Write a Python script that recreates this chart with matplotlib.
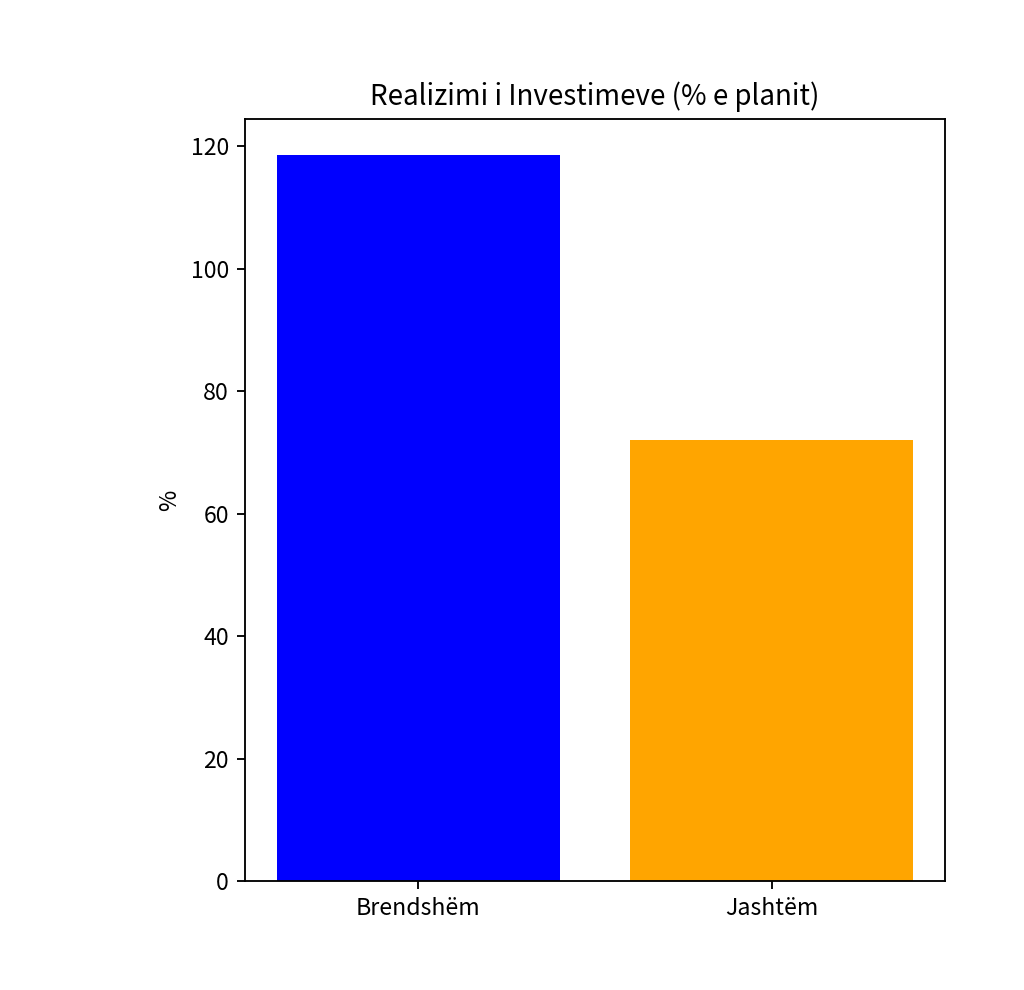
import matplotlib
matplotlib.use('Agg')
import matplotlib.pyplot as plt

plt.rcParams['font.family'] = ['Noto Sans CJK SC', 'DejaVu Sans']

categories = ['Brendshëm', 'Jashtëm']
realizimi = [118.5, 72.0]
colors = ['blue', 'orange']

dpi = 1024 / 6.144
fig = plt.figure(figsize=(6.144, 990 / dpi), dpi=dpi)
ax = fig.add_axes([0.2393, 0.1101, 0.6836, 0.7697])
ax.bar(categories, realizimi, color=colors)
ax.set_title('Realizimi i Investimeve (% e planit)')
ax.set_ylabel('%')

fig.savefig('out.png', dpi=dpi)
